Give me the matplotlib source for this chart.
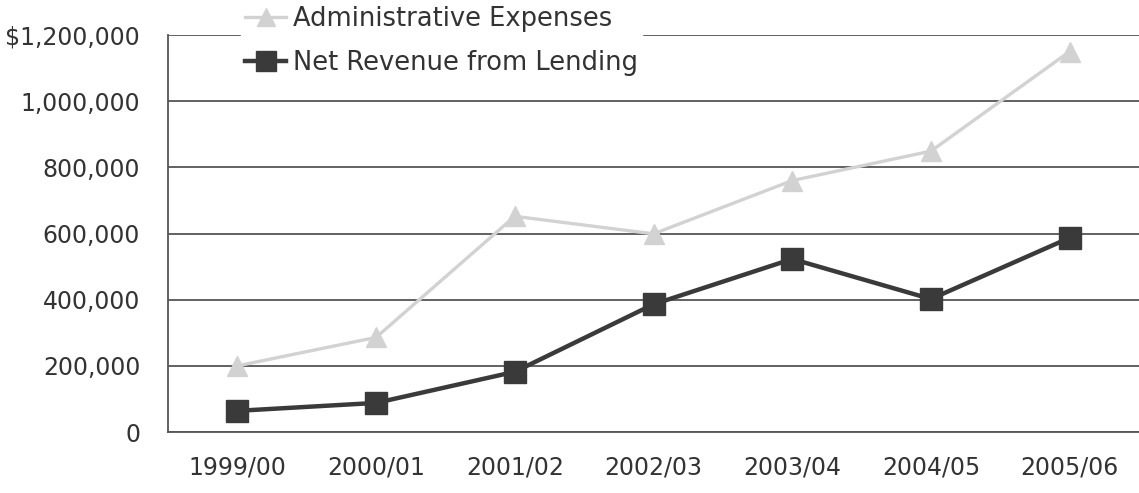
import matplotlib
matplotlib.use('Agg')
from matplotlib import pyplot as plt
from matplotlib.ticker import FuncFormatter

# Fiscal years and the two series (dollars)
years = ['1999/00', '2000/01', '2001/02', '2002/03', '2003/04', '2004/05', '2005/06']
admin_expenses = [200000, 286000, 652000, 599000, 760000, 849000, 1150000]
net_revenue = [64000, 88000, 182000, 386000, 523000, 402000, 587000]

y_ticks = [0, 200000, 400000, 600000, 800000, 1000000, 1200000]

plt.rcParams['font.family'] = ['DejaVu Sans']

fig = plt.figure(figsize=(11.39, 4.93), dpi=100)
ax = fig.add_axes([0.1475, 0.1237, 0.8525, 0.8053])

x = list(range(len(years)))

# Light series first so the dark one sits on top
ax.plot(x, admin_expenses, color='#d2d2d2', lw=2.4, marker='^', markersize=15,
        markerfacecolor='#d2d2d2', markeredgecolor='#d2d2d2',
        label='Administrative Expenses', zorder=3)
ax.plot(x, net_revenue, color='#3a3a3a', lw=3.2, marker='s', markersize=16,
        markerfacecolor='#3a3a3a', markeredgecolor='#3a3a3a',
        label='Net Revenue from Lending', zorder=4)

ax.set_xlim(-0.5, len(years) - 0.5)
ax.set_ylim(0, 1200000)
ax.set_xticks(x)
ax.set_xticklabels(years)
ax.set_yticks(y_ticks)


def money(v, pos):
    if v == 0:
        return '0'
    s = f'{int(v):,}'
    return '$' + s if v == y_ticks[-1] else s


ax.yaxis.set_major_formatter(FuncFormatter(money))

# Horizontal rules at each tick, none on the x axis
ax.grid(axis='y', color='#555555', lw=1.3, zorder=1)
ax.set_axisbelow(True)
for side in ['top', 'right']:
    ax.spines[side].set_visible(False)
ax.spines['left'].set_color('#555555')
ax.spines['bottom'].set_color('#555555')
ax.spines['left'].set_linewidth(1.3)
ax.spines['bottom'].set_linewidth(1.3)

ax.tick_params(axis='both', length=0, labelsize=17, colors='#333333')
ax.tick_params(axis='y', pad=20)
ax.tick_params(axis='x', pad=17)

# Legend sits on a white patch that breaks the top rule
lgd = fig.legend(loc='upper left', bbox_to_anchor=(0.212, 0.996), frameon=True,
                 facecolor='white', edgecolor='white', framealpha=1.0,
                 fontsize=18.5, handlelength=1.6, handletextpad=0.25,
                 labelspacing=0.7, borderpad=0.15, borderaxespad=0.0,
                 markerscale=0.9)
for t in lgd.get_texts():
    t.set_color('#333333')
lgd.set_zorder(5)

plt.savefig('out.png', dpi=100)
